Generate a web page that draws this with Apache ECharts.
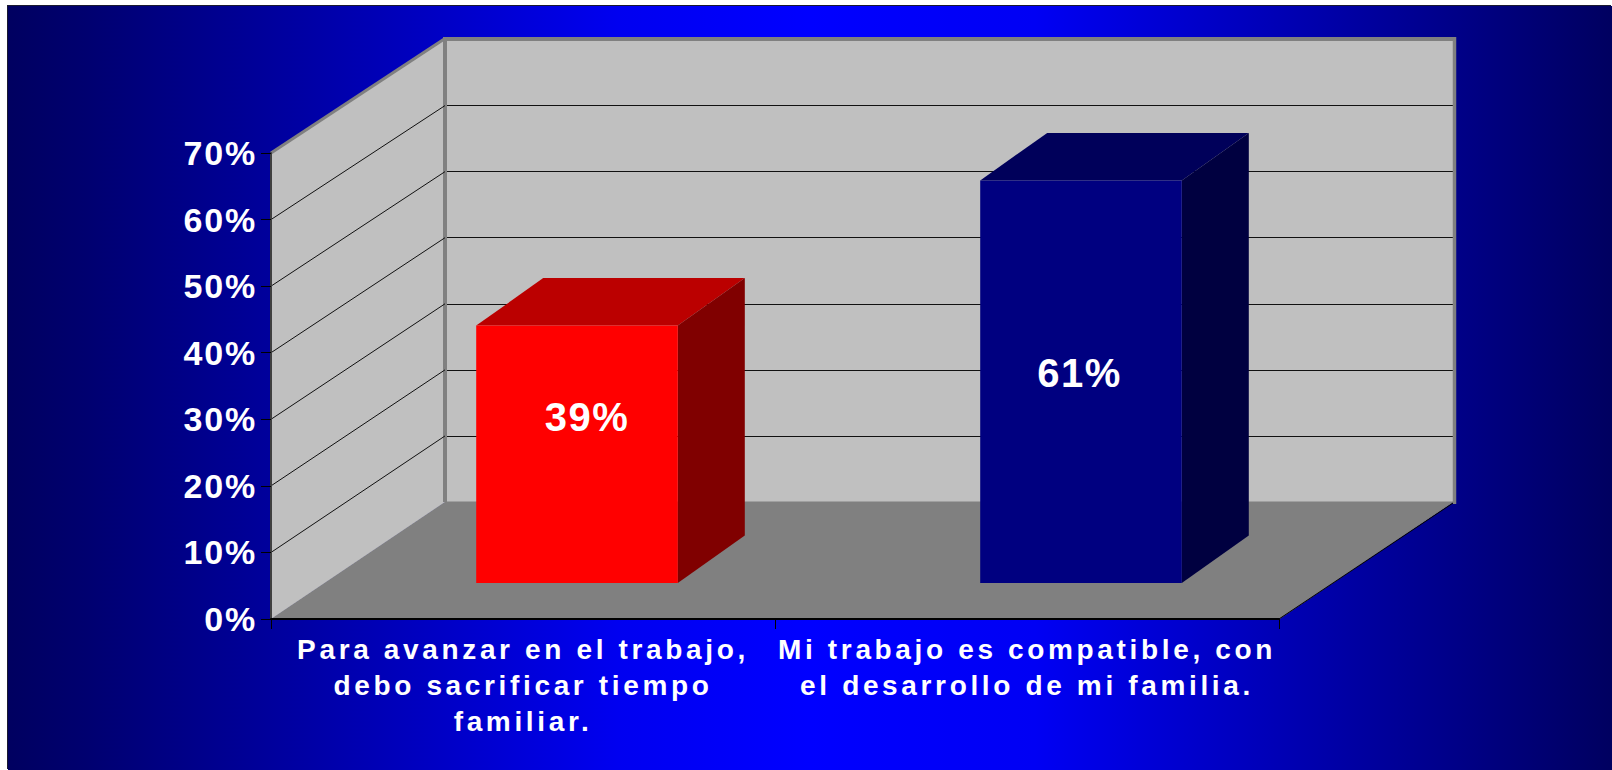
<!DOCTYPE html>
<html>
<head>
<meta charset="utf-8">
<style>
  html, body { margin: 0; padding: 0; background: #fff; overflow: hidden; }
  #main { position: absolute; left: 8px; top: 6px; width: 1604px; height: 764px; box-shadow: -1px -1px 0 #1a1a30; }
  #main text[style*="28px"] { letter-spacing: 3.65px; }
  #main text[style*="34px"] { letter-spacing: 1.8px; }
  #main text[style*="40px"] { letter-spacing: 1.5px; }
</style>
<script src="https://cdn.jsdelivr.net/npm/echarts@6/dist/echarts.min.js"></script>
</head>
<body>
<div id="main"></div>
<script>
const categories = [
  'Para avanzar en el trabajo,\ndebo sacrificar tiempo\nfamiliar.',
  'Mi trabajo es compatible, con\nel desarrollo de mi familia.'
]
const values = [39, 61]
const valueLabels = ['39%', '61%']
const wallTicks = [10, 20, 30, 40, 50, 60]

const faceColors = [
  { front: '#ff0000', top: '#bb0000', side: '#800000' },
  { front: '#000080', top: '#00005a', side: '#000040' }
]
// the labels do not sit in the middle of the faces
const labelShift = [[10, -37], [-1.5, -9]]

// the container is offset by 8,6 from the page
const front = { left: 263, top: 147, width: 1008, height: 466 }
const back = { left: 437, top: 33.5, width: 1008, height: 462.5 }
const barPlane = { left: 317, top: 115, width: 1008, height: 462 }
const barDepth = [67, -47.5]

const chart = echarts.init(document.getElementById('main'), null, { renderer: 'svg' })

function frontY(v) {
  return chart.convertToPixel({ yAxisIndex: 0 }, v)
}
function backY(v) {
  return chart.convertToPixel({ yAxisIndex: 1 }, v)
}

function renderWalls() {
  const fl = front.left
  const fr = front.left + front.width
  const bl = back.left
  const br = back.left + back.width
  const f0 = frontY(0)
  const f70 = frontY(70)
  const b0 = backY(0)
  const b70 = backY(70)
  const children = [
    {
      type: 'polygon',
      shape: { points: [[fl, f0], [fr, f0], [br, b0], [bl, b0]] },
      style: { fill: '#808080', stroke: '#808080', lineWidth: 1 }
    },
    {
      type: 'polygon',
      shape: { points: [[fl, f0], [fl, f70], [bl, b70], [bl, b0]] },
      style: { fill: '#c0c0c0' }
    },
    {
      type: 'line',
      shape: { x1: fl, y1: f70, x2: bl, y2: b70 - 1 },
      style: { stroke: '#808080', lineWidth: 3 }
    },
    {
      type: 'line',
      shape: { x1: bl, y1: b70 - 2.5, x2: bl, y2: b0 },
      style: { stroke: '#808080', lineWidth: 4 }
    },
    {
      type: 'line',
      shape: { x1: bl, y1: b70 - 0.5, x2: br + 3, y2: b70 - 0.5 },
      style: { stroke: '#808080', lineWidth: 4 }
    },
    {
      type: 'line',
      shape: { x1: br + 1.5, y1: b70 - 2.5, x2: br + 1.5, y2: b0 + 2 },
      style: { stroke: '#808080', lineWidth: 3.5 }
    },
    {
      type: 'line',
      shape: { x1: fr, y1: f0, x2: br, y2: b0 + 1 },
      style: { stroke: '#000', lineWidth: 1 }
    }
  ]
  wallTicks.forEach((v) => {
    children.push({
      type: 'line',
      shape: { x1: fl, y1: frontY(v), x2: bl, y2: backY(v) },
      style: { stroke: '#111', lineWidth: 1 }
    })
  })
  return { type: 'group', children }
}

function renderBar(params, api) {
  const i = api.value(0)
  const v = api.value(1)
  const base = api.coord([i, 0])
  const top = api.coord([i, v])
  const w = api.size([1, 0])[0] * 0.4
  const x0 = base[0] - w / 2
  const x1 = base[0] + w / 2
  const dx = barDepth[0]
  const dy = barDepth[1]
  const c = faceColors[i]
  return {
    type: 'group',
    children: [
      {
        type: 'polygon',
        shape: { points: [[x0, top[1]], [x0 + dx, top[1] + dy], [x1 + dx, top[1] + dy], [x1, top[1]]] },
        style: { fill: c.top }
      },
      {
        type: 'polygon',
        shape: { points: [[x1, top[1]], [x1 + dx, top[1] + dy], [x1 + dx, base[1] + dy], [x1, base[1]]] },
        style: { fill: c.side }
      },
      {
        type: 'rect',
        shape: { x: x0, y: top[1], width: w, height: base[1] - top[1] },
        style: { fill: c.front }
      },
      {
        type: 'text',
        x: base[0] + labelShift[i][0],
        y: (base[1] + top[1]) / 2 + labelShift[i][1],
        style: {
          text: valueLabels[i],
          fill: '#fff',
          font: 'bold 40px "Liberation Sans", Arial, sans-serif',
          align: 'center',
          verticalAlign: 'middle'
        }
      }
    ]
  }
}

chart.setOption({
  animation: false,
  backgroundColor: {
    type: 'linear',
    x: 0, y: 0, x2: 1, y2: 0,
    colorStops: [
      { offset: 0, color: '#000060' },
      { offset: 0.05, color: '#000070' },
      { offset: 0.38, color: '#0000f0' },
      { offset: 0.5, color: '#0000ff' },
      { offset: 0.64, color: '#0000f4' },
      { offset: 0.96, color: '#000070' },
      { offset: 1, color: '#000060' }
    ]
  },
  grid: [
    Object.assign({}, front),
    Object.assign({ show: true, backgroundColor: '#c0c0c0', borderWidth: 0 }, back),
    Object.assign({}, barPlane)
  ],
  xAxis: [
    {
      gridIndex: 0,
      type: 'category',
      data: categories,
      z: 6,
      axisLine: { lineStyle: { color: '#000', width: 2 } },
      axisTick: { show: true, alignWithLabel: false, length: 10, lineStyle: { color: '#000', width: 1 } },
      axisLabel: {
        interval: 0,
        margin: 12,
        color: '#fff',
        fontFamily: '"Liberation Sans", Arial, sans-serif',
        fontWeight: 'bold',
        fontSize: 28,
        lineHeight: 36
      }
    },
    { gridIndex: 1, type: 'category', data: categories, show: false },
    { gridIndex: 2, type: 'category', data: categories, show: false }
  ],
  yAxis: [
    {
      gridIndex: 0,
      type: 'value',
      min: 0,
      max: 70,
      interval: 10,
      z: 6,
      splitLine: { show: false },
      axisLine: { show: true, lineStyle: { color: '#404040', width: 2 } },
      axisTick: { show: true, length: 10, lineStyle: { color: '#000', width: 1 } },
      axisLabel: {
        margin: 14,
        color: '#fff',
        fontFamily: '"Liberation Sans", Arial, sans-serif',
        fontWeight: 'bold',
        fontSize: 34,
        formatter: '{value}%'
      }
    },
    {
      gridIndex: 1,
      type: 'value',
      min: 0,
      max: 70,
      interval: 10,
      axisLine: { show: false },
      axisTick: { show: false },
      axisLabel: { show: false },
      splitLine: { show: true, showMinLine: false, showMaxLine: false, lineStyle: { color: '#111', width: 1 } }
    },
    { gridIndex: 2, type: 'value', min: 0, max: 70, show: false, splitLine: { show: false } }
  ],
  series: [
    {
      type: 'custom',
      xAxisIndex: 1,
      yAxisIndex: 1,
      z: 1,
      silent: true,
      renderItem: renderWalls,
      data: [[0, 0]]
    },
    {
      type: 'custom',
      xAxisIndex: 2,
      yAxisIndex: 2,
      z: 3,
      renderItem: renderBar,
      encode: { x: 0, y: 1 },
      data: values.map((v, i) => [i, v])
    }
  ]
})
</script>
</body>
</html>
